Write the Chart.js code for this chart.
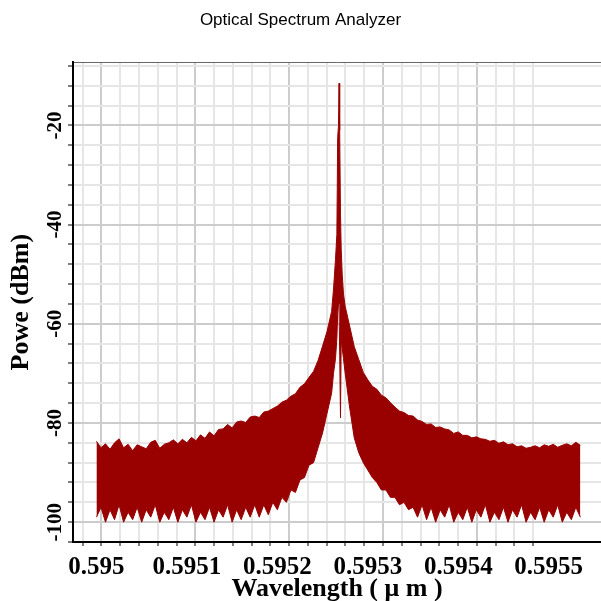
<!DOCTYPE html>
<html>
<head>
<meta charset="utf-8">
<title>Optical Spectrum Analyzer</title>
<script src="https://cdn.jsdelivr.net/npm/chart.js@4.4.1/dist/chart.umd.min.js"></script>
<style>
  html, body { margin: 0; padding: 0; background: #fff; }
  #wrap { width: 601px; height: 601px; }
</style>
</head>
<body>
<div id="wrap"><canvas id="osa"></canvas></div>
<script>
// wavelength samples (um)
const wavelength = [
    0.595000, 0.595005, 0.595010, 0.595015, 0.595020, 0.595025, 0.595030, 0.595035, 0.595040, 0.595045,
    0.595050, 0.595055, 0.595060, 0.595065, 0.595070, 0.595075, 0.595080, 0.595085, 0.595090, 0.595095,
    0.595100, 0.595105, 0.595110, 0.595115, 0.595120, 0.595125, 0.595130, 0.595135, 0.595140, 0.595145,
    0.595150, 0.595155, 0.595160, 0.595165, 0.595170, 0.595175, 0.595180, 0.595185, 0.595190, 0.595195,
    0.595200, 0.595205, 0.595210, 0.595215, 0.595220, 0.595225, 0.595230, 0.595235, 0.595240, 0.595245,
    0.595250, 0.595255, 0.595260,
    0.5952621, 0.5952643, 0.5952658, 0.5952667, 0.5952676, 0.5952682, 0.5952689, 0.5952698, 0.5952706, 0.5952717, 0.5952731,
    0.595275, 0.595280, 0.595285, 0.595290, 0.595295,
    0.595300, 0.595305, 0.595310, 0.595315, 0.595320, 0.595325, 0.595330, 0.595335, 0.595340, 0.595345,
    0.595350, 0.595355, 0.595360, 0.595365, 0.595370, 0.595375, 0.595380, 0.595385, 0.595390, 0.595395,
    0.595400, 0.595405, 0.595410, 0.595415, 0.595420, 0.595425, 0.595430, 0.595435, 0.595440, 0.595445,
    0.595450, 0.595455, 0.595460, 0.595465, 0.595470, 0.595475, 0.595480, 0.595485, 0.595490, 0.595495,
    0.595500, 0.595505, 0.595510, 0.595515, 0.595520, 0.595525, 0.595530, 0.595535
];

// top edge of the noisy trace (dBm)
const powerTop = [
    -83.7, -85.0, -84.2, -85.3, -84.0, -83.2, -85.0, -84.3, -85.6, -84.4,
    -84.8, -85.2, -83.9, -83.5, -85.1, -84.3, -84.0, -83.4, -84.2, -83.3,
    -84.0, -82.9, -83.6, -82.4, -83.1, -81.8, -82.6, -81.3, -81.2, -80.3,
    -81.0, -79.8, -79.6, -79.9, -78.8, -78.6, -78.9, -77.8, -77.6, -77.1,
    -76.6, -75.8, -75.4, -74.6, -74.1, -72.8, -72.1, -70.8, -69.6, -67.4,
    -64.5, -61.5, -57.5,
    -53, -47, -42, -22.5, -20, -11.5, -21, -38, -45, -50, -54,
    -56.5, -60.5, -64.6, -67.2, -69.8,
    -71.3, -72.6, -73.2, -74.4, -74.9, -75.9, -76.8, -77.6, -77.9, -78.5,
    -78.6, -79.4, -79.7, -80.3, -80.2, -80.9, -80.8, -81.2, -81.4, -82.1,
    -81.8, -82.5, -82.5, -83.0, -82.8, -83.2, -83.3, -83.7, -83.5, -84.1,
    -83.8, -84.4, -84.2, -84.8, -84.6, -85.1, -84.9, -84.6, -85.0, -84.4,
    -84.7, -84.3, -84.9, -84.5, -84.2, -84.6, -83.9, -84.5
];

// bottom edge of the trace (dBm), the noise floor dips reach -100
const powerBottom = [
    -99, -97, -100, -97.5, -99.5, -96.5, -100, -98, -99.5, -97,
    -100, -97.5, -99, -96.5, -100, -98, -99.5, -97, -100, -97.5,
    -99, -96.5, -100, -98, -99.5, -97, -100, -97.5, -99, -96.5,
    -100, -97.5, -99.5, -97, -99, -96.5, -99, -96.5, -98.5, -96,
    -97.5, -95, -96, -93.5, -94, -91.5, -91, -88.5, -88, -85,
    -82, -78, -74,
    -70, -67, -63, -58, -56, -56, -56, -79, -63, -65, -67,
    -70, -77, -83, -86, -88,
    -89.5, -91, -92, -93.5, -93.5, -95, -95, -96.5, -96, -97.5,
    -97, -99, -96.5, -99.5, -97, -100, -97.5, -99, -96.5, -100,
    -98, -99.5, -97, -100, -97.5, -99, -96.5, -100, -98, -99.5,
    -97, -100, -97.5, -99, -96.5, -100, -98, -99.5, -97, -100,
    -97.5, -99, -96.5, -100, -98, -99.5, -97, -99
];

const xLabels = [0.595, 0.5951, 0.5952, 0.5953, 0.5954, 0.5955];
const yLabels = [-100, -80, -60, -40, -20];

const red = "rgb(153,0,0)";
const gridMinor = "#e6e6e6";
const gridMajor = "#cccccc";
const serif = "'Liberation Serif', 'Times New Roman', serif";

// visible window
const xMin = 0.59497407, xMax = 0.59555782;
const yMin = -104, yMax = -7.3;
// the analyzer draws its own division grid, not tied to the labels
const divStart = 0.5949848, divStep = 0.000020752, divCount = 25;

const findLabel = (list, v) => list.find(t => Math.abs(t - v) < 1e-9);

const topLine = wavelength.map((w, i) => ({x: w, y: powerTop[i]}));
const bottomLine = wavelength.map((w, i) => ({x: w, y: powerBottom[i]}));

const data = {
    datasets: [{
        label: 'top',
        data: topLine,
        borderColor: red,
        backgroundColor: red,
        borderWidth: 1,
        pointRadius: 0,
        tension: 0,
        fill: '+1'
    }, {
        label: 'bottom',
        data: bottomLine,
        borderColor: red,
        backgroundColor: red,
        borderWidth: 1,
        pointRadius: 0,
        tension: 0,
        fill: false
    }]
};

const config = {
    type: 'line',
    data: data,
    options: {
        responsive: true,
        maintainAspectRatio: false,
        animation: false,
        layout: {padding: 0},
        plugins: {
            legend: {display: false},
            tooltip: {enabled: false},
            title: {
                display: true,
                text: 'Optical Spectrum Analyzer',
                color: '#000',
                font: {family: "'Liberation Sans', Arial, sans-serif", size: 17, weight: 'normal'},
                padding: {top: 10, bottom: 32}
            }
        },
        scales: {
            x: {
                type: 'linear',
                position: 'bottom',
                weight: 1,
                min: xMin,
                max: xMax,
                grid: {display: false, drawTicks: false},
                border: {display: false},
                ticks: {
                    stepSize: 0.00002,
                    includeBounds: false,
                    autoSkip: false,
                    minRotation: 0,
                    maxRotation: 0,
                    padding: 7,
                    color: '#000',
                    font: {family: serif, size: 25, weight: 'bold'},
                    callback: v => {
                        const t = findLabel(xLabels, v);
                        return t === undefined ? '' : String(t);
                    }
                },
                title: {
                    display: true,
                    text: 'Wavelength ( μ m )',
                    color: '#000',
                    font: {family: serif, size: 26, weight: 'bold', lineHeight: 1},
                    padding: {top: 0, bottom: -1}
                },
                afterFit: s => { s.height = 55; }
            },
            xg: {
                type: 'linear',
                position: 'bottom',
                weight: 0,
                min: xMin,
                max: xMax,
                afterBuildTicks: s => {
                    s.ticks = Array.from({length: divCount}, (_, k) => ({value: divStart + k * divStep}));
                },
                ticks: {display: false},
                grid: {
                    color: c => (c.index % 5 === 1 ? gridMajor : gridMinor),
                    lineWidth: 2,
                    tickLength: 4,
                    tickColor: '#000',
                    tickWidth: 1
                },
                border: {color: '#000', width: 2}
            },
            xt: {
                type: 'linear',
                position: 'top',
                min: xMin,
                max: xMax,
                ticks: {display: false},
                grid: {display: false, drawTicks: false},
                border: {color: '#666', width: 1, dash: [1, 2]}
            },
            y: {
                type: 'linear',
                min: yMin,
                max: yMax,
                grid: {
                    color: c => (yLabels.includes(c.tick.value) ? gridMajor : gridMinor),
                    lineWidth: 2,
                    tickLength: 5,
                    tickColor: '#000',
                    tickWidth: 1
                },
                border: {color: '#000', width: 2},
                ticks: {
                    stepSize: 4,
                    includeBounds: false,
                    autoSkip: false,
                    minRotation: 90,
                    maxRotation: 90,
                    crossAlign: 'center',
                    padding: -7,
                    color: '#000',
                    font: {family: serif, size: 21, weight: 'bold'},
                    callback: v => (yLabels.includes(v) ? String(v) : '')
                },
                title: {
                    display: true,
                    text: 'Powe (dBm)',
                    color: '#000',
                    font: {family: serif, size: 26, weight: 'bold'},
                    padding: {top: 6, bottom: 0}
                },
                afterFit: s => { s.width = 73; }
            }
        }
    }
};

new Chart(document.getElementById('osa'), config);
</script>
</body>
</html>
